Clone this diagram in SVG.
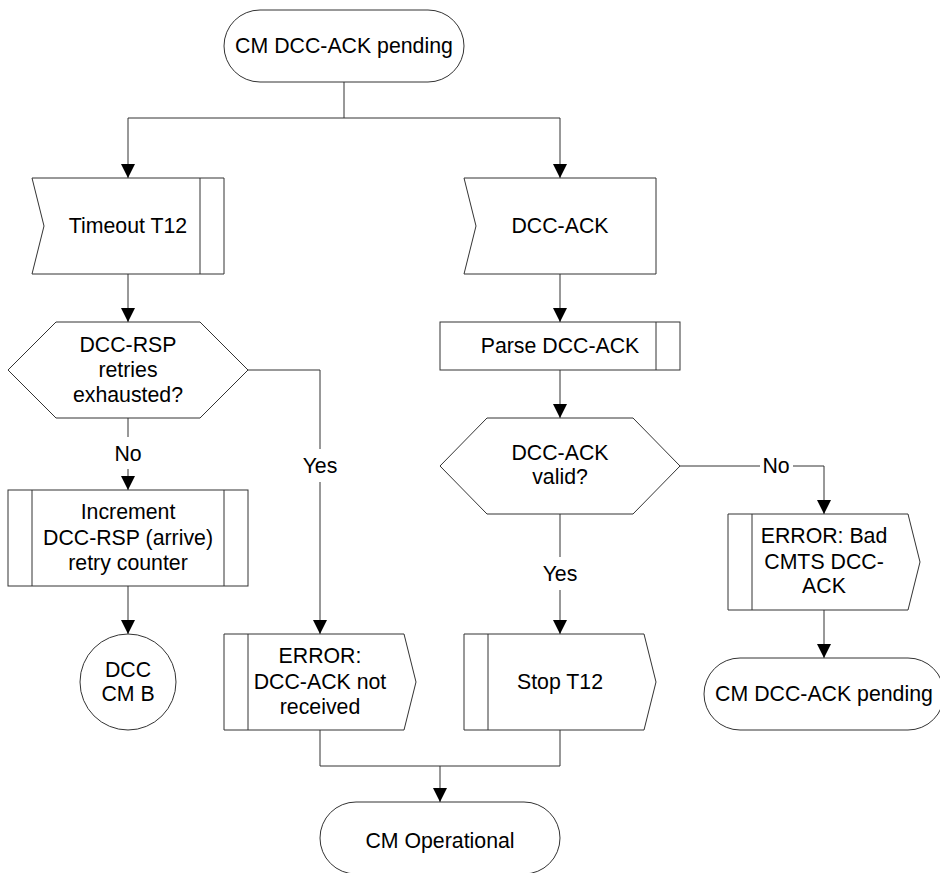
<svg xmlns="http://www.w3.org/2000/svg" width="940" height="873" viewBox="0 0 940 873">
<style>
.s{fill:#fff;stroke:#333;stroke-width:1}
.l{fill:none;stroke:#333;stroke-width:1}
text{font-family:"Liberation Sans",Arial,sans-serif;font-size:21.3px;fill:#000;text-anchor:middle}
</style>
<defs>
<marker id="ar" markerUnits="userSpaceOnUse" markerWidth="14" markerHeight="14" viewBox="0 0 14 14" refX="14" refY="7" orient="auto">
<path d="M0,0 L14,7 L0,14 Z" fill="#000"/>
</marker>
</defs>
<rect width="940" height="873" fill="#fff"/>
<g id="connectors">
<path class="l" d="M344,82 V118 M128,118 H560"/>
<path class="l" d="M128,118 V178" marker-end="url(#ar)"/>
<path class="l" d="M560,118 V178" marker-end="url(#ar)"/>
<path class="l" d="M128,274 V322" marker-end="url(#ar)"/>
<path class="l" d="M128,418 V437"/>
<path class="l" d="M128,469 V490" marker-end="url(#ar)"/>
<path class="l" d="M128,586 V634" marker-end="url(#ar)"/>
<path class="l" d="M248,370 H320 V449"/>
<path class="l" d="M320,482 V634" marker-end="url(#ar)"/>
<path class="l" d="M560,274 V322" marker-end="url(#ar)"/>
<path class="l" d="M560,370 V418" marker-end="url(#ar)"/>
<path class="l" d="M680,466 H760"/>
<path class="l" d="M793,466 H824 V514" marker-end="url(#ar)"/>
<path class="l" d="M560,514 V557"/>
<path class="l" d="M560,590 V634" marker-end="url(#ar)"/>
<path class="l" d="M824,610 V658" marker-end="url(#ar)"/>
<path class="l" d="M320,730 V766 H560 V730"/>
<path class="l" d="M440,766 V802" marker-end="url(#ar)"/>
<text x="128" y="461">No</text>
<text x="320" y="473">Yes</text>
<text x="776" y="473">No</text>
<text x="560" y="581">Yes</text>
</g>
<g id="start">
<rect class="s" x="224" y="10" width="240" height="72" rx="36" ry="36"/>
<text x="344" y="53">CM DCC-ACK pending</text>
</g>
<g id="timeout">
<path class="s" d="M32,178 H224 V274 H32 L44,226 Z"/>
<path class="l" d="M200,178 V274"/>
<text x="128" y="233">Timeout T12</text>
</g>
<g id="dccack">
<path class="s" d="M464,178 H656 V274 H464 L476,226 Z"/>
<text x="560" y="233">DCC-ACK</text>
</g>
<g id="retries">
<path class="s" d="M8,370 L56,322 H200 L248,370 L200,418 H56 Z"/>
<text x="128" y="352">DCC-RSP</text>
<text x="128" y="377">retries</text>
<text x="128" y="402">exhausted?</text>
</g>
<g id="increment">
<rect class="s" x="8" y="490" width="240" height="96"/>
<path class="l" d="M32,490 V586 M224,490 V586"/>
<text x="128" y="519">Increment</text>
<text x="128" y="545">DCC-RSP (arrive)</text>
<text x="128" y="570">retry counter</text>
</g>
<g id="dcccmb">
<circle class="s" cx="128" cy="682" r="48"/>
<text x="128" y="677">DCC</text>
<text x="128" y="701">CM B</text>
</g>
<g id="errnotrecv">
<path class="s" d="M224,634 H404 L416,682 L404,730 H224 Z"/>
<path class="l" d="M248,634 V730"/>
<text x="320" y="663">ERROR:</text>
<text x="320" y="689">DCC-ACK not</text>
<text x="320" y="714">received</text>
</g>
<g id="parse">
<rect class="s" x="440" y="322" width="240" height="48"/>
<path class="l" d="M656,322 V370"/>
<text x="560" y="353">Parse DCC-ACK</text>
</g>
<g id="valid">
<path class="s" d="M440,466 L487,418 H633 L680,466 L633,514 H487 Z"/>
<text x="560" y="460">DCC-ACK</text>
<text x="560" y="484">valid?</text>
</g>
<g id="stop">
<path class="s" d="M464,634 H644 L656,682 L644,730 H464 Z"/>
<path class="l" d="M488,634 V730"/>
<text x="560" y="689">Stop T12</text>
</g>
<g id="errbad">
<path class="s" d="M728,514 H908 L920,562 L908,610 H728 Z"/>
<path class="l" d="M752,514 V610"/>
<text x="824" y="543">ERROR: Bad</text>
<text x="824" y="569">CMTS DCC-</text>
<text x="824" y="593">ACK</text>
</g>
<g id="pending2">
<rect class="s" x="704" y="658" width="240" height="72" rx="36" ry="36"/>
<text x="824" y="701">CM DCC-ACK pending</text>
</g>
<g id="operational">
<rect class="s" x="320" y="802" width="240" height="72" rx="36" ry="36"/>
<text x="440" y="848">CM Operational</text>
</g>
</svg>
